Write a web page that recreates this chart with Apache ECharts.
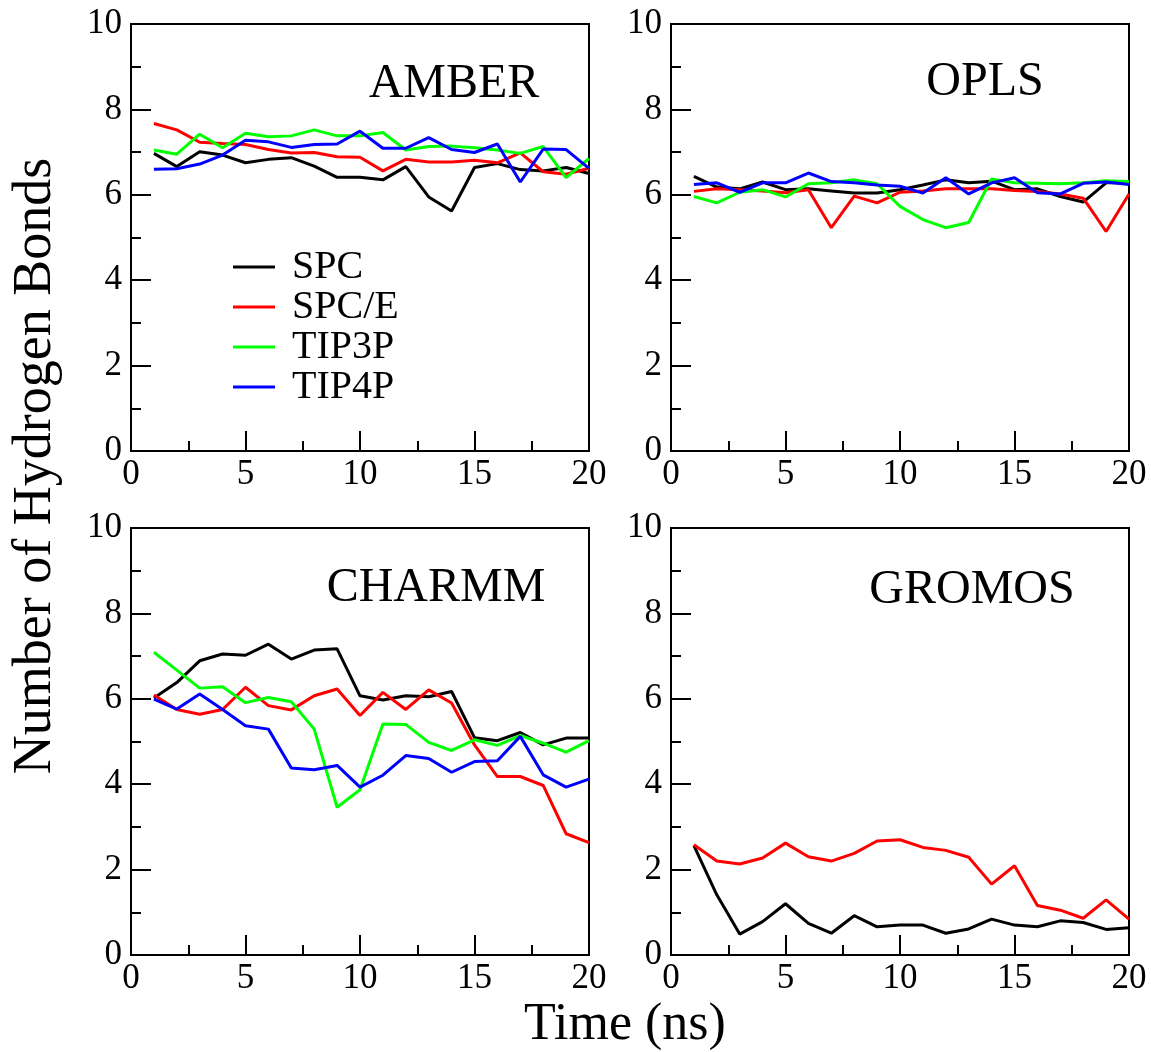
<!DOCTYPE html>
<html>
<head>
<meta charset="utf-8">
<script src="https://cdn.jsdelivr.net/npm/echarts@6/dist/echarts.min.js"></script>
<style>
html,body{margin:0;padding:0;background:#fff;}
#chart{width:1151px;height:1052px;}
</style>
</head>
<body>
<div id="chart"></div>
<script>
// ---- data ----
var time = [1,2,3,4,5,6,7,8,9,10,11,12,13,14,15,16,17,18,19,20];
var seriesNames = ['SPC','SPC/E','TIP3P','TIP4P'];
var panelTitles = ['AMBER','OPLS','CHARMM','GROMOS'];
var xTicks = [0,5,10,15,20];
var yTicks = [0,2,4,6,8,10];

var amberSPC   = [6.97,6.66,7.01,6.93,6.75,6.83,6.87,6.67,6.41,6.41,6.35,6.66,5.95,5.62,6.64,6.73,6.59,6.56,6.64,6.50];
var amberSPCE  = [7.67,7.52,7.23,7.20,7.18,7.06,6.98,6.99,6.89,6.88,6.56,6.83,6.77,6.77,6.81,6.75,6.98,6.54,6.48,6.62];
var amberTIP3P = [7.05,6.95,7.42,7.10,7.44,7.36,7.38,7.52,7.38,7.38,7.46,7.05,7.13,7.14,7.10,7.05,6.97,7.13,6.40,6.85];
var amberTIP4P = [6.60,6.61,6.72,6.93,7.28,7.24,7.11,7.18,7.19,7.49,7.09,7.09,7.34,7.06,6.99,7.19,6.30,7.07,7.06,6.62];

var oplsSPC   = [6.43,6.18,6.14,6.30,6.12,6.14,6.09,6.04,6.04,6.12,6.23,6.35,6.28,6.32,6.12,6.14,5.96,5.83,6.28,6.28];
var oplsSPCE  = [6.08,6.14,6.12,6.09,6.05,6.12,5.23,5.97,5.81,6.06,6.09,6.14,6.14,6.14,6.10,6.08,6.02,5.92,5.14,6.02];
var oplsTIP3P = [5.96,5.81,6.06,6.12,5.95,6.26,6.28,6.35,6.26,5.73,5.42,5.23,5.35,6.37,6.28,6.27,6.26,6.28,6.33,6.31];
var oplsTIP4P = [6.24,6.28,6.06,6.28,6.28,6.51,6.31,6.28,6.23,6.20,6.04,6.40,6.02,6.28,6.40,6.05,6.02,6.27,6.30,6.24];

var charmmSPC   = [6.02,6.38,6.89,7.05,7.02,7.28,6.93,7.14,7.17,6.07,5.97,6.07,6.05,6.17,5.09,5.02,5.21,4.92,5.08,5.08];
var charmmSPCE  = [6.09,5.75,5.64,5.75,6.27,5.84,5.74,6.07,6.23,5.61,6.15,5.75,6.21,5.90,4.92,4.18,4.18,3.97,2.84,2.63];
var charmmTIP3P = [7.09,6.67,6.25,6.28,5.91,6.03,5.93,5.29,3.46,3.87,5.41,5.40,4.98,4.79,5.04,4.91,5.14,4.96,4.75,5.02];
var charmmTIP4P = [5.99,5.76,6.11,5.75,5.37,5.29,4.38,4.34,4.44,3.93,4.21,4.67,4.60,4.28,4.53,4.55,5.12,4.22,3.93,4.12];

var gromosSPC  = [2.56,1.41,0.49,0.78,1.20,0.74,0.51,0.92,0.66,0.70,0.70,0.51,0.61,0.84,0.70,0.66,0.80,0.76,0.60,0.64];
var gromosSPCE = [2.58,2.20,2.13,2.27,2.62,2.30,2.20,2.38,2.67,2.70,2.52,2.45,2.29,1.66,2.09,1.16,1.05,0.86,1.29,0.84];

var panels = [
  [amberSPC, amberSPCE, amberTIP3P, amberTIP4P],
  [oplsSPC, oplsSPCE, oplsTIP3P, oplsTIP4P],
  [charmmSPC, charmmSPCE, charmmTIP3P, charmmTIP4P],
  [gromosSPC, gromosSPCE]
];

// ---- styling ----
var colors = ['#000000','#ff0000','#00ff00','#0000ff'];
var FONT = '"Liberation Serif", "Times New Roman", serif';
var gridPos = [
  {left:131, top:24},
  {left:671, top:24},
  {left:131, top:528},
  {left:671, top:528}
];
var titlePos = [[454,84],[985,82],[436,588],[972,590]];

var grids = [], xAxes = [], yAxes = [], series = [], graphics = [];
gridPos.forEach(function(g, i){
  grids.push({left:g.left, top:g.top, width:458, height:427, show:true,
    borderColor:'#000', borderWidth:2, backgroundColor:'transparent'});
  xAxes.push({type:'value', gridIndex:i, min:xTicks[0], max:xTicks[xTicks.length-1], interval:xTicks[1]-xTicks[0],
    axisLine:{show:true, onZero:false, lineStyle:{color:'#000', width:2}},
    axisTick:{show:true, inside:true, length:20, lineStyle:{color:'#000', width:2}},
    minorTick:{show:true, splitNumber:2, length:10, lineStyle:{color:'#000', width:2}},
    splitLine:{show:false},
    axisLabel:{show:true, margin:6, color:'#000', fontSize:35, fontFamily:FONT}
  });
  yAxes.push({type:'value', gridIndex:i, min:yTicks[0], max:yTicks[yTicks.length-1], interval:yTicks[1]-yTicks[0],
    axisLine:{show:true, onZero:false, lineStyle:{color:'#000', width:2}},
    axisTick:{show:true, inside:true, length:20, lineStyle:{color:'#000', width:2}},
    minorTick:{show:true, splitNumber:2, length:10, lineStyle:{color:'#000', width:2}},
    splitLine:{show:false},
    axisLabel:{show:true, margin:9, color:'#000', fontSize:35, fontFamily:FONT}
  });
  panels[i].forEach(function(vals, s){
    series.push({
      name: seriesNames[s], type:'line', xAxisIndex:i, yAxisIndex:i,
      data: time.map(function(t, k){ return [t, vals[k]]; }),
      showSymbol:false, symbol:'none', animation:false,
      lineStyle:{color:colors[s], width:3},
      itemStyle:{color:colors[s]},
      z: 2 + s
    });
  });
  graphics.push({type:'text', x:titlePos[i][0], y:titlePos[i][1],
    style:{text:panelTitles[i], fill:'#000', font:'48px ' + FONT, textAlign:'center', textVerticalAlign:'middle'}});
});

graphics.push({type:'text', x:625, y:1025,
  style:{text:'Time (ns)', fill:'#000', font:'52px ' + FONT, textAlign:'center', textVerticalAlign:'middle'}});
graphics.push({type:'text', x:36, y:466, rotation:Math.PI/2,
  style:{text:'Number of Hydrogen Bonds', fill:'#000', font:'54px ' + FONT, textAlign:'center', textVerticalAlign:'middle'}});

var chart = echarts.init(document.getElementById('chart'), null, {renderer:'canvas'});
chart.setOption({
  backgroundColor:'#ffffff',
  animation:false,
  color: colors,
  grid: grids,
  xAxis: xAxes,
  yAxis: yAxes,
  legend: {
    data: seriesNames.map(function(n){ return {name:n, icon:'rect'}; }),
    orient:'vertical', left:228, top:242,
    itemWidth:42, itemHeight:3, itemGap:0, selectedMode:false,
    textStyle:{color:'#000', fontSize:40, fontFamily:FONT, lineHeight:38, padding:[0,0,0,12]}
  },
  series: series,
  graphic: graphics
});
</script>
</body>
</html>
